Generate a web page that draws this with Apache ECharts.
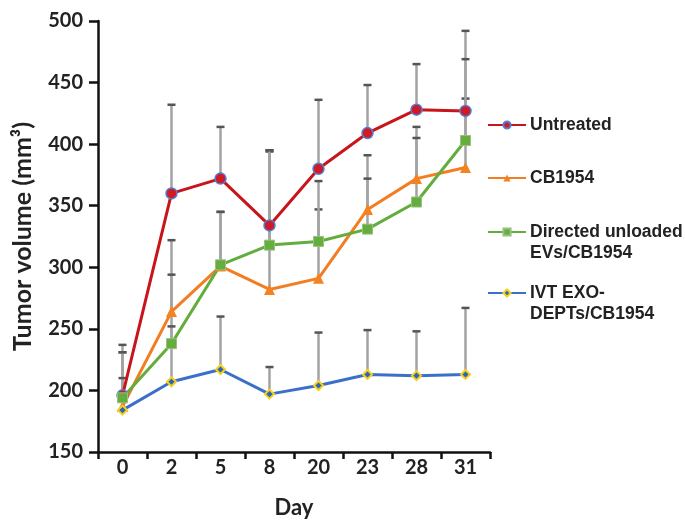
<!DOCTYPE html>
<html>
<head>
<meta charset="utf-8">
<script src="https://cdn.jsdelivr.net/npm/echarts@6/dist/echarts.min.js"></script>
<style>html,body{margin:0;padding:0;background:#fff;}#c{width:685px;height:520px;}</style>
</head>
<body>
<div id="c"></div>
<script>
var days = ['0', '2', '5', '8', '20', '23', '28', '31'];
var yTicks = [150, 200, 250, 300, 350, 400, 450, 500];
var seriesNames = ['Untreated', 'CB1954', 'Directed unloaded', 'IVT EXO-'];
var secondLines = ['', '', 'EVs/CB1954', 'DEPTs/CB1954'];
var untreated = [196, 360, 372, 334, 380, 409, 428, 427];
var cb1954 = [187, 264, 301, 282, 291, 347, 372, 381];
var directed = [194, 238, 302, 318, 321, 331, 353, 403];
var ivt = [184, 207, 217, 197, 204, 213, 212, 213];
var untreatedSd = [41, 72, 42, 61, 56, 39, 37, 65];
var cb1954Sd = [44, 58, 44, 112, 56, 44, 42, 56];
var directedSd = [37, 56, 43, 77, 49, 41, 52, 66];
var ivtSd = [26, 45, 43, 22, 43, 36, 36, 54];

var values = [untreated, cb1954, directed, ivt];
var sds = [untreatedSd, cb1954Sd, directedSd, ivtSd];
var lineColors = ['#c8151b', '#f37d22', '#62ad3c', '#3b6fc9'];
var symbols = ['circle', 'triangle', 'rect', 'diamond'];
var symbolSizes = [11, 11, 10, 9];
var itemStyles = [
  {color: '#d01a25', borderColor: '#4f7fd8', borderWidth: 1.5},
  {color: '#f58220', borderWidth: 0},
  {color: '#66ad3f', borderColor: '#98c080', borderWidth: 1},
  {color: '#2f63c0', borderColor: '#f4d11a', borderWidth: 2}
];
var legendCenters = [125, 178, 232, 293];

var tickFont = {fontFamily: 'Lato', fontWeight: 'bold', fontSize: 20, color: '#222'};
var yTitleFont = {fontFamily: 'Lato', fontWeight: 'bold', fontSize: 25, color: '#222'};
var xTitleFont = {fontFamily: 'Lato', fontWeight: 'bold', fontSize: 22, color: '#222'};

var series = [];
values.forEach(function (vals, k) {
  series.push({
    name: 'err' + k,
    type: 'custom',
    z: 1,
    silent: true,
    data: vals.map(function (v, i) { return [i, v, v + sds[k][i]]; }),
    encode: {x: 0, y: [1, 2]},
    renderItem: function (params, api) {
      var p0 = api.coord([api.value(0), api.value(1)]);
      var p1 = api.coord([api.value(0), api.value(2)]);
      return {
        type: 'group',
        children: [
          {type: 'line', shape: {x1: p0[0], y1: p0[1], x2: p1[0], y2: p1[1]},
           style: {stroke: '#a3a3a3', lineWidth: 2.5}},
          {type: 'line', shape: {x1: p1[0] - 4, y1: p1[1], x2: p1[0] + 4, y2: p1[1]},
           style: {stroke: '#555', lineWidth: 2.5}}
        ]
      };
    }
  });
});
values.forEach(function (vals, k) {
  series.push({
    name: seriesNames[k],
    type: 'line',
    z: 3,
    data: vals,
    symbol: symbols[k],
    symbolSize: symbolSizes[k],
    showAllSymbol: true,
    lineStyle: {color: lineColors[k], width: 3},
    itemStyle: itemStyles[k]
  });
});

var legends = seriesNames.map(function (n, k) {
  return {
    data: [n],
    orient: 'vertical',
    left: 487,
    top: legendCenters[k] - 10,
    padding: 0,
    itemWidth: 38,
    itemHeight: 9,
    itemGap: 0,
    selectedMode: false,
    textStyle: {fontFamily: 'Liberation Sans', fontWeight: 'bold', fontSize: 17.5, color: '#222', lineHeight: 20, padding: [0, 0, 0, -1]}
  };
});

var graphics = [];
secondLines.forEach(function (t, k) {
  if (t) {
    graphics.push({type: 'text', left: 530, top: legendCenters[k] + 12,
      style: {text: t, font: 'bold 17.5px "Liberation Sans"', fill: '#222'}});
  }
});

var chart = echarts.init(document.getElementById('c'), null, {renderer: 'canvas'});
chart.setOption({
  animation: false,
  backgroundColor: '#fff',
  grid: {left: 98, right: 195, top: 21, bottom: 68, outerBoundsMode: 'none', containLabel: false},
  legend: legends,
  graphic: graphics,
  xAxis: {
    type: 'category',
    data: days,
    boundaryGap: true,
    name: 'Day',
    nameLocation: 'middle',
    nameGap: 45,
    nameTextStyle: xTitleFont,
    axisLine: {lineStyle: {color: '#111', width: 2.5}},
    axisTick: {show: true, inside: false, length: 7, lineStyle: {color: '#111', width: 2.5}},
    axisLabel: Object.assign({margin: 6}, tickFont),
    splitLine: {show: false}
  },
  yAxis: {
    type: 'value',
    min: yTicks[0],
    max: yTicks[yTicks.length - 1],
    interval: 50,
    name: 'Tumor volume (mm³)',
    nameLocation: 'middle',
    nameGap: 63,
    nameRotate: 90,
    nameTextStyle: yTitleFont,
    axisLine: {show: true, lineStyle: {color: '#111', width: 2.5}},
    axisTick: {show: true, inside: false, length: 9, lineStyle: {color: '#111', width: 2.5}},
    axisLabel: Object.assign({margin: 15}, tickFont),
    splitLine: {show: false}
  },
  series: series
});
</script>
</body>
</html>
